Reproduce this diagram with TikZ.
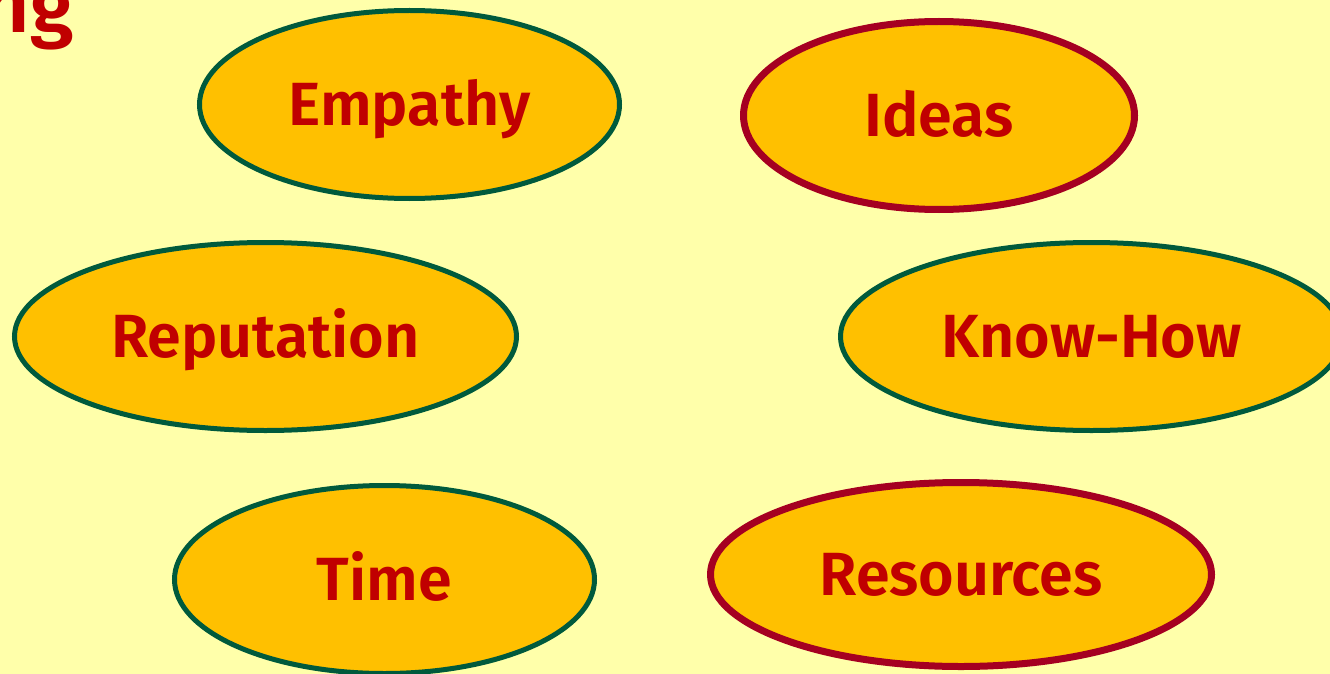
\documentclass[tikz,border=0pt]{standalone}
\usepackage{fontspec}
\setmainfont{Fira Sans}[BoldFont={Fira Sans SemiBold}]
\usetikzlibrary{shapes.geometric}
\definecolor{bgyellow}{HTML}{FFFFAA}
\definecolor{fillorange}{HTML}{FFC000}
\definecolor{txtred}{HTML}{C00000}
\definecolor{bordgreen}{HTML}{005A3C}
\definecolor{bordred}{HTML}{A50021}
\tikzset{
  bubble/.style={ellipse, fill=fillorange, inner sep=0pt, text=txtred,
    font=\fontsize{61}{61}\selectfont\bfseries, text height=42pt, text depth=0pt},
  greenb/.style={bubble, draw=bordgreen, line width=5pt},
  redb/.style={bubble, draw=bordred, line width=7pt},
}
\begin{document}
\begin{tikzpicture}[x=1pt,y=-1pt]
\useasboundingbox (0,0) rectangle (1330,674);
\clip (0,0) rectangle (1330,674);
\fill[bgyellow] (0,0) rectangle (1330,674);
\node[anchor=base east, inner sep=0pt, text=txtred, font=\fontsize{80}{80}\selectfont\bfseries] (title) at (74,33) {ng};
\node[greenb, minimum width=420pt, minimum height=188pt] (empathy) at (409.5,104.5) {Empathy};
\node[redb, minimum width=391pt, minimum height=188pt] (ideas) at (939,115.5) {Ideas};
\node[greenb, minimum width=502pt, minimum height=188pt] (reputation) at (265.5,336.5) {Reputation};
\node[greenb, minimum width=502pt, minimum height=188pt] (knowhow) at (1091.5,336.5) {Know-How};
\node[greenb, minimum width=420pt, minimum height=188pt] (time) at (384.5,579.5) {Time};
\node[redb, minimum width=501pt, minimum height=184pt] (resources) at (961,574.5) {Resources};
\end{tikzpicture}
\end{document}
